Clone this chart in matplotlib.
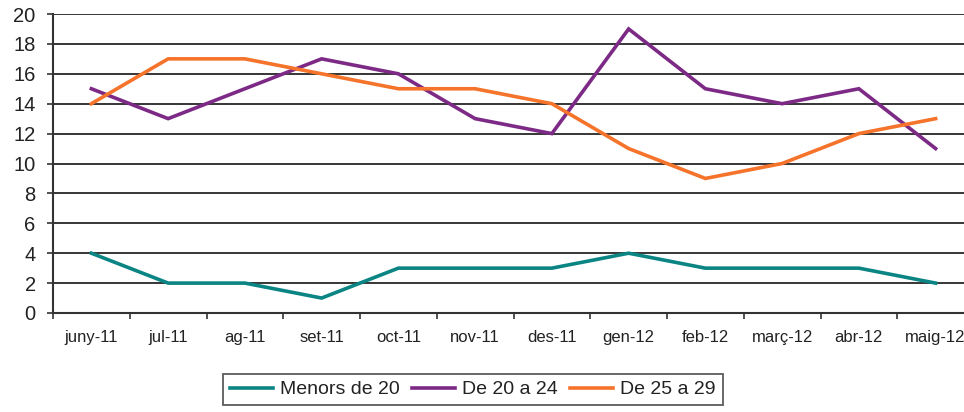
import matplotlib
matplotlib.use("Agg")
import matplotlib.pyplot as plt
import numpy as np

plt.rcParams['font.family'] = ['Liberation Sans', 'DejaVu Sans']

months = ["juny-11", "jul-11", "ag-11", "set-11", "oct-11", "nov-11",
          "des-11", "gen-12", "feb-12", "març-12", "abr-12", "maig-12"]
menors_20 = [4, 2, 2, 1, 3, 3, 3, 4, 3, 3, 3, 2]
de_20_24 = [15, 13, 15, 17, 16, 13, 12, 19, 15, 14, 15, 11]
de_25_29 = [14, 17, 17, 16, 15, 15, 14, 11, 9, 10, 12, 13]
series_names = ["Menors de 20", "De 20 a 24", "De 25 a 29"]
colors = ["#0b8584", "#7c2a86", "#f5732a"]

fig = plt.figure(figsize=(9.64, 4.12), dpi=100)
ax = fig.add_axes([53/964, 1-313/412, 921/964, 299/412])

x = np.arange(len(months))
for vals, name, c in zip([menors_20, de_20_24, de_25_29], series_names, colors):
    ax.plot(x, vals, color=c, lw=2.6, label=name, solid_joinstyle='miter')

ax.set_xlim(-0.5, len(months) - 0.5)
ax.set_ylim(0, 20)
ax.set_yticks(range(0, 21, 2))
ax.yaxis.grid(True, color="#262626", lw=1.3)
ax.set_axisbelow(True)

ax.set_xticks(np.arange(-0.5, len(months), 1.0))
ax.set_xticklabels([])
ax.set_xticks(x, minor=True)
ax.set_xticklabels(months, minor=True, fontsize=12)
ax.tick_params(axis='x', which='major', length=4.5, width=1.2, color="#333333", direction='out')
ax.tick_params(axis='x', which='minor', length=0, pad=12)
ax.tick_params(axis='y', length=4.5, width=1.2, color="#333333", direction='out', labelsize=14.5, pad=8)

for s in ['top', 'right']:
    ax.spines[s].set_visible(False)
for s in ['left', 'bottom']:
    ax.spines[s].set_color("#333333")
    ax.spines[s].set_linewidth(1.5)
for lab in ax.get_xticklabels(minor=True) + ax.get_yticklabels():
    lab.set_color("#222222")

leg = fig.legend(loc='upper left', bbox_to_anchor=(223/964, 1-374/412),
                 bbox_transform=fig.transFigure, ncol=3, fontsize=14,
                 frameon=True, fancybox=False, handlelength=2.2,
                 handletextpad=0.4, columnspacing=0.6, borderpad=0.35,
                 borderaxespad=0)
leg.get_frame().set_edgecolor("#333333")
leg.get_frame().set_linewidth(1.3)
for t in leg.get_texts():
    t.set_color("#222222")

fig.savefig("out.png", dpi=100)
